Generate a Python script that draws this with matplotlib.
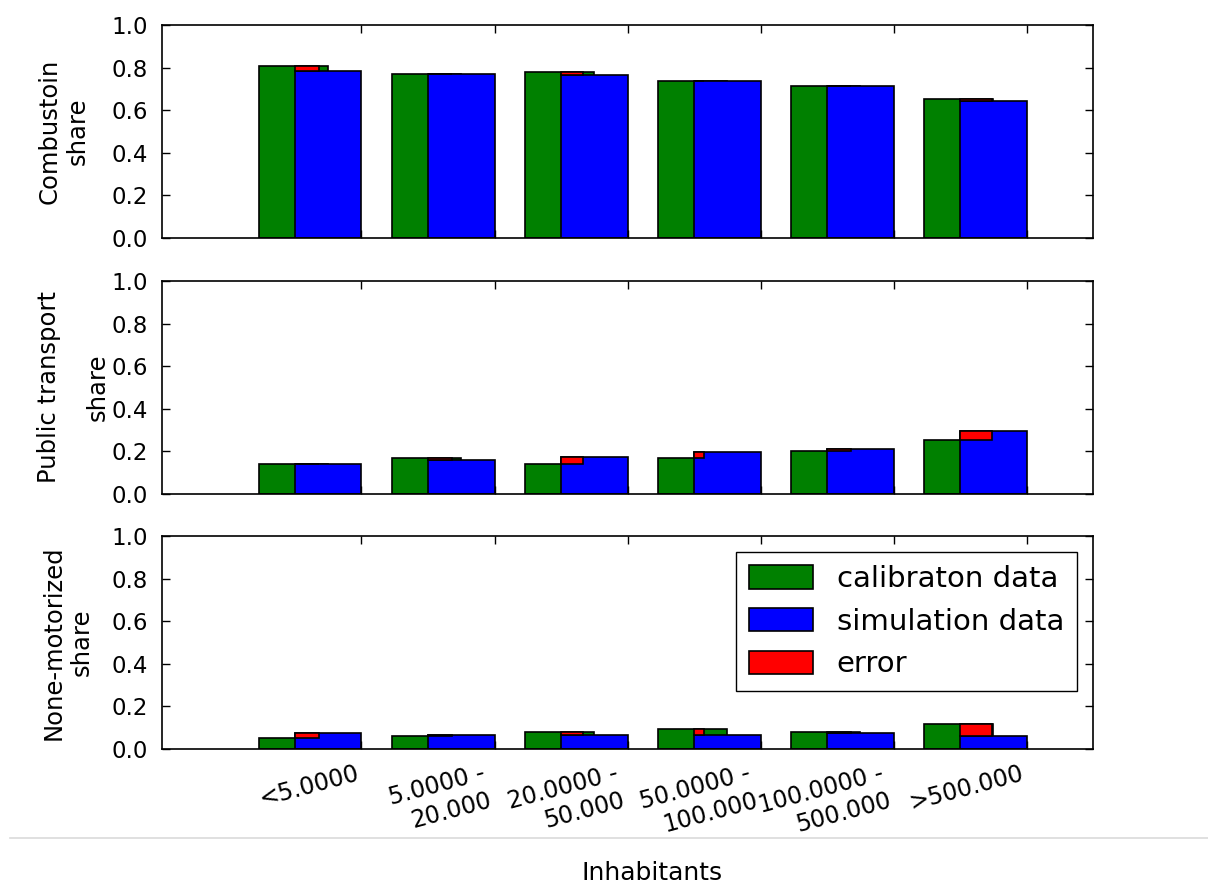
import numpy as np
import matplotlib
matplotlib.use("Agg")
import matplotlib.pyplot as plt
from matplotlib.lines import Line2D

# town size classes
labels = ["<5.0000", "5.0000 -\n20.000", "20.0000 -\n50.000",
          "50.0000 -\n100.000", "100.0000 -\n500.000", ">500.000"]

# combustion engine share
comb_calib = [0.805, 0.770, 0.780, 0.735, 0.715, 0.652]
comb_sim = [0.785, 0.770, 0.765, 0.735, 0.715, 0.645]

# public transport share
pt_calib = [0.140, 0.167, 0.140, 0.167, 0.202, 0.253]
pt_sim = [0.140, 0.160, 0.174, 0.196, 0.210, 0.296]

# non-motorized share
nm_calib = [0.052, 0.061, 0.080, 0.094, 0.080, 0.117]
nm_sim = [0.075, 0.066, 0.066, 0.066, 0.075, 0.061]

# width of the error patch per size class
err_width = [0.18, 0.18, 0.165, 0.075, 0.18, 0.24]

panels = [
    ("Combustoin\nshare", comb_calib, comb_sim),
    ("Public transport\nshare", pt_calib, pt_sim),
    ("None-motorized\nshare", nm_calib, nm_sim),
]

plt.rcParams["font.family"] = "DejaVu Sans"
fig = plt.figure(figsize=(12.08, 8.84), dpi=100)

ind = np.arange(len(labels))
width = 0.5
bottoms = [0.7308, 0.4412, 0.1527]
label_x = [-0.078, -0.056, -0.073]
label_spacing = [1.2, 2.3, 1.2]

for k, (ylab, calib, sim) in enumerate(panels):
    ax = fig.add_axes([0.134, bottoms[k], 0.771, 0.241])
    calib = np.array(calib)
    sim = np.array(sim)
    ax.bar(ind - 0.27, calib, 0.52, align="edge", color="g",
           edgecolor="k", linewidth=1.2, label="calibraton data")
    ax.bar(ind, sim, width, align="edge", color="b",
           edgecolor="k", linewidth=1.2, label="simulation data")
    ax.bar(ind, np.abs(calib - sim), err_width, bottom=np.minimum(calib, sim),
           align="edge", color="r", edgecolor="k", linewidth=1.2, label="error")

    ax.set_xlim(-1, 6)
    ax.set_ylim(0, 1)
    ax.set_yticks(np.arange(0, 1.01, 0.2))
    ax.set_yticklabels(["%.1f" % v for v in np.arange(0, 1.01, 0.2)])
    ax.tick_params(direction="in", top=True, right=True, labelsize=16.5,
                   length=6, width=1)
    ax.tick_params(axis="y", pad=10)
    ax.set_xticks(ind + width)
    for s in ax.spines.values():
        s.set_linewidth(1.2)
    ax.set_ylabel(ylab, fontsize=17.5, linespacing=label_spacing[k])
    ax.yaxis.set_label_coords(label_x[k], 0.5)
    if k < 2:
        ax.set_xticklabels([])
    else:
        ax.set_xticklabels(labels, rotation=15, ha="right", fontsize=17,
                           multialignment="right")
        ax.tick_params(axis="x", pad=9)
        ax.legend(loc="upper right", fontsize=21, fancybox=False,
                  edgecolor="k", framealpha=1, borderaxespad=0.55,
                  handlelength=2.2, handleheight=0.85, borderpad=0.45)

# separator line and axis caption below the plots
fig.add_artist(Line2D([10 / 1208, 1.0], [1 - 838 / 884] * 2, color="#dadada",
                      linewidth=1.2, transform=fig.transFigure))
fig.text(652 / 1208, 1 - 873 / 884, "Inhabitants", ha="center", va="center",
         fontsize=18)

fig.savefig("out.png", dpi=100, facecolor="white")
